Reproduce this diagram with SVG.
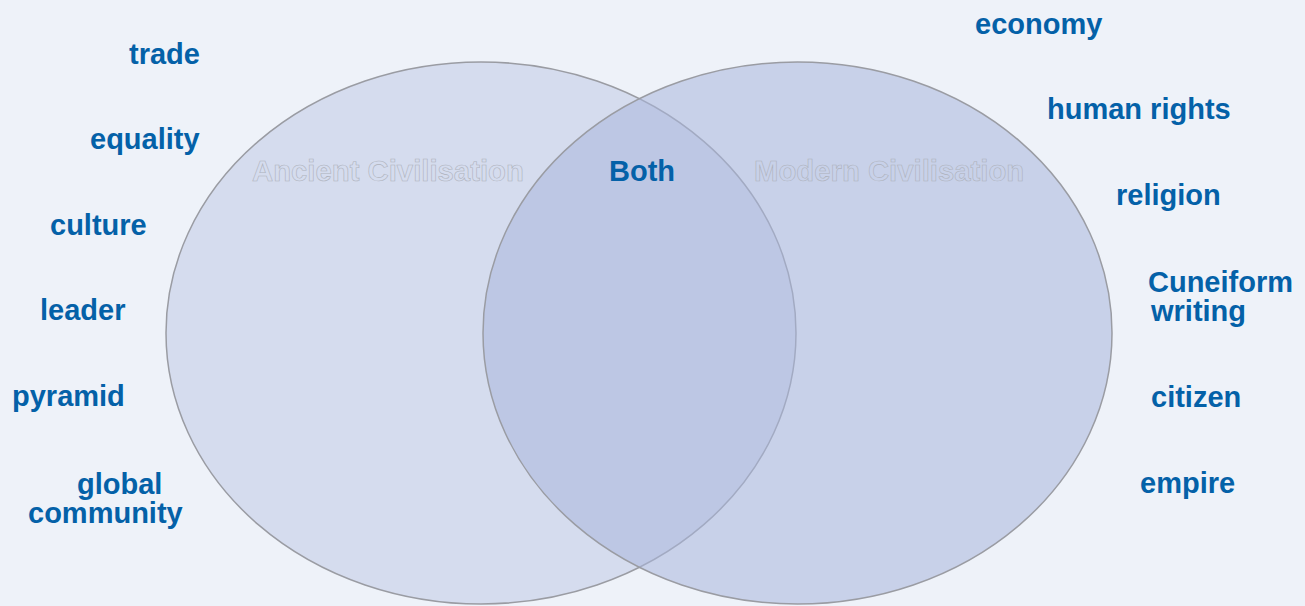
<svg xmlns="http://www.w3.org/2000/svg" width="1305" height="606" viewBox="0 0 1305 606">
<style>
.lbl{font-family:"Liberation Sans",Arial,sans-serif;font-weight:bold;font-size:29px;fill:#0461a8}
.ttl{font-family:"Liberation Sans",Arial,sans-serif;font-weight:bold;font-size:29.3px;fill:none;stroke:#aeb2bc;stroke-width:0.6}
.ell{stroke:#9a9ca3;stroke-width:1.5}
</style>
<rect width="1305" height="606" fill="#eef2f9"/>
<g id="circles">
<ellipse class="ell" cx="481" cy="333" rx="315" ry="271" fill="#d5dcee"/>
<ellipse class="ell" cx="797.5" cy="333" rx="314.5" ry="271" fill="#a9b6dc" fill-opacity="0.55"/>
</g>
<g id="connectors"/>
<g id="titles">
<text class="ttl" x="252" y="181">Ancient Civilisation</text>
<text class="ttl" x="754" y="181">Modern Civilisation</text>
<text class="lbl" x="609" y="181">Both</text>
</g>
<g id="left-terms">
<text class="lbl" x="129" y="64">trade</text>
<text class="lbl" x="90" y="149">equality</text>
<text class="lbl" x="50" y="235">culture</text>
<text class="lbl" x="40" y="320">leader</text>
<text class="lbl" x="12" y="406">pyramid</text>
<text class="lbl" x="77" y="494">global</text>
<text class="lbl" x="28" y="523">community</text>
</g>
<g id="right-terms">
<text class="lbl" x="975" y="34">economy</text>
<text class="lbl" x="1047" y="119">human rights</text>
<text class="lbl" x="1116" y="205">religion</text>
<text class="lbl" x="1148" y="292">Cuneiform</text>
<text class="lbl" x="1151" y="321">writing</text>
<text class="lbl" x="1151" y="407">citizen</text>
<text class="lbl" x="1140" y="493">empire</text>
</g>
</svg>
